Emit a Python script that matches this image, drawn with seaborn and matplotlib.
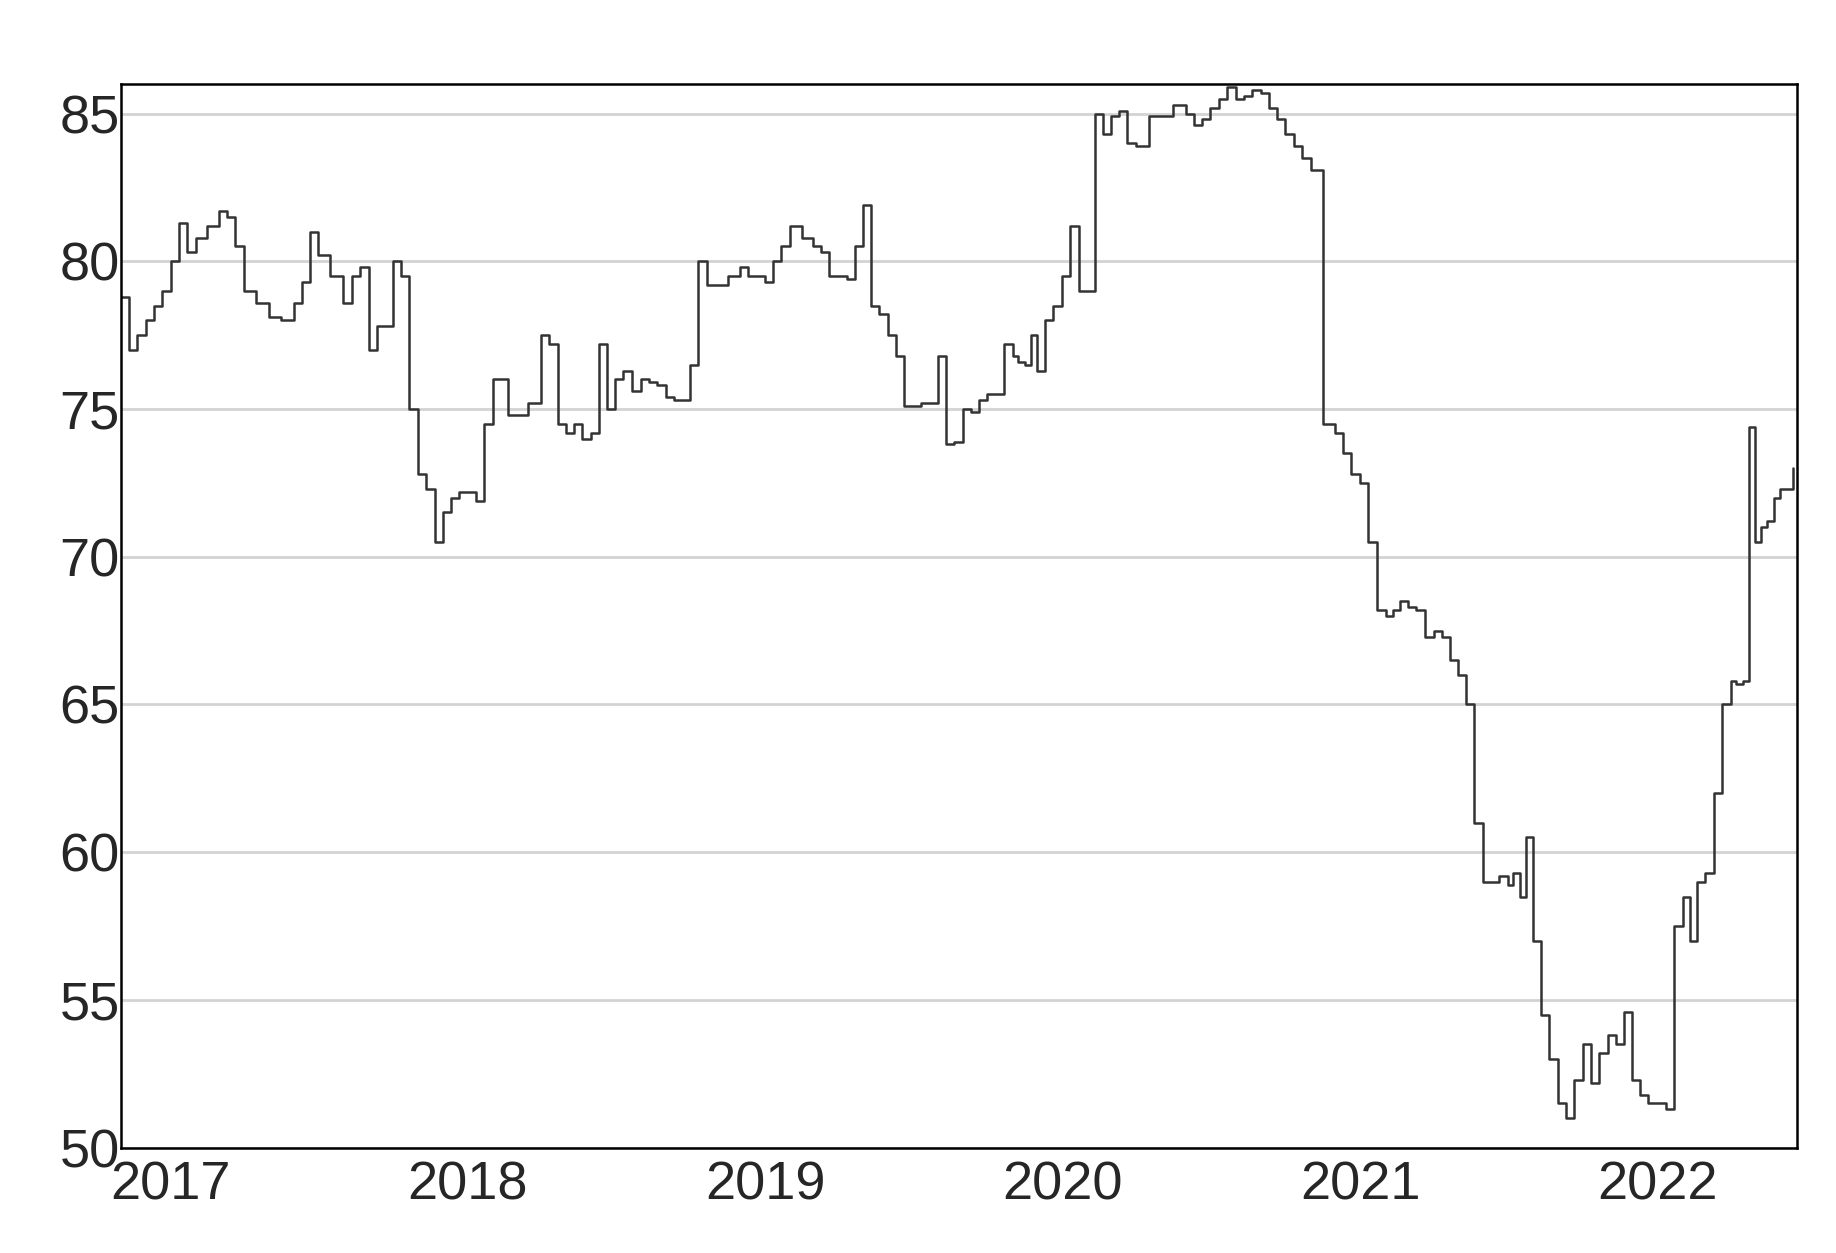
import matplotlib
matplotlib.use("Agg")
import matplotlib.pyplot as plt
import seaborn as sns
import pandas as pd
import numpy as np

months = pd.date_range("2016-11-01", "2022-06-01", freq="MS")
monthly_values = [
    [78.8, 77.0, 77.5], [78.0, 78.5, 79.0],
    [80.0, 81.3, 80.3], [80.8, 81.2], [81.7, 81.5, 80.5], [79.0, 78.6], [78.1, 78.0],
    [78.6, 79.3, 81.0], [80.2, 79.5], [78.6, 79.5, 79.8], [77.0, 77.8, 77.8],
    [80.0, 79.5, 75.0], [72.8, 72.3, 70.5], [71.5, 72.0, 72.2],
    [72.2, 71.9, 74.5], [76.0, 76.0, 74.8], [74.8, 75.2], [77.5, 77.2, 74.5],
    [74.2, 74.5, 74.0], [74.2, 77.2, 75.0], [76.0, 76.3, 75.6], [76.0, 75.9, 75.8],
    [75.4, 75.3, 75.3], [76.5, 80.0, 79.2], [79.2, 79.5], [79.8, 79.5, 79.5],
    [79.3, 80.0, 80.5], [81.2, 80.8], [80.5, 80.3, 79.5], [79.5, 79.4, 80.5],
    [81.9, 78.5, 78.2], [77.5, 76.8, 75.1], [75.1, 75.2, 75.2], [76.8, 73.8, 73.9],
    [75.0, 74.9, 75.3], [75.5, 75.5, 77.2], [76.8, 76.6, 76.5, 77.5], [76.3, 78.0, 78.5],
    [79.5, 81.2, 79.0], [79.0, 85.0, 84.3], [84.9, 85.1, 84.0], [83.9, 84.9],
    [84.9, 85.3], [85.0, 84.6, 84.8], [85.2, 85.5, 85.9], [85.5, 85.6, 85.8],
    [85.7, 85.2, 84.8], [84.3, 83.9, 83.5], [83.1, 74.5], [74.2, 73.5, 72.8],
    [72.5, 70.5, 68.2], [68.0, 68.2, 68.5], [68.3, 68.2, 67.3], [67.5, 67.3, 66.5],
    [66.0, 65.0, 61.0], [59.0, 59.0, 59.2], [58.9, 59.3, 58.5, 60.5], [57.0, 54.5, 53.0],
    [51.5, 51.0, 52.3], [53.5, 52.2, 53.2], [53.8, 53.5, 54.6], [52.3, 51.8, 51.5],
    [51.5, 51.3, 57.5], [58.5, 57.0, 59.0], [59.3, 62.0, 65.0], [65.8, 65.7, 65.8, 74.4],
    [70.5, 71.0, 71.2, 72.0], [72.3, 73.0],
]
year_ticks = ["2017", "2018", "2019", "2020", "2021", "2022"]

dates, vals = [], []
for m, vs in zip(months, monthly_values):
    n = len(vs)
    ndays = m.days_in_month
    for i, v in enumerate(vs):
        dates.append(m + pd.Timedelta(days=int(i * ndays / n)))
        vals.append(v)
df = pd.DataFrame({"date": dates, "value": vals})

sns.set_style("white")
plt.rcParams['font.family'] = ['Liberation Sans', 'DejaVu Sans']
fig = plt.figure(figsize=(18.36, 12.53), dpi=100)
ax = fig.add_axes([0.066, 0.084, 0.913, 0.849])
sns.lineplot(data=df, x="date", y="value", ax=ax, color="#333333",
             linewidth=1.8, drawstyle="steps-post")
ax.set_xlim(pd.Timestamp("2016-11-01"), pd.Timestamp("2022-06-22"))
ax.set_ylim(50, 86)
ax.set_yticks([50, 55, 60, 65, 70, 75, 80, 85])
ax.set_xticks([pd.Timestamp(f"{y}-01-01") for y in year_ticks])
ax.set_xticklabels(year_ticks)
ax.yaxis.grid(True, color="#d3d3d3", linewidth=2)
ax.set_axisbelow(True)
for s in ax.spines.values():
    s.set_color("black"); s.set_linewidth(1.8)
ax.tick_params(axis="x", direction="out", length=8, width=1.5, labelsize=39, pad=1)
ax.tick_params(axis="y", length=0, labelsize=39, pad=1)
ax.set_xlabel(""); ax.set_ylabel("")
fig.savefig("out.png", dpi=100)
